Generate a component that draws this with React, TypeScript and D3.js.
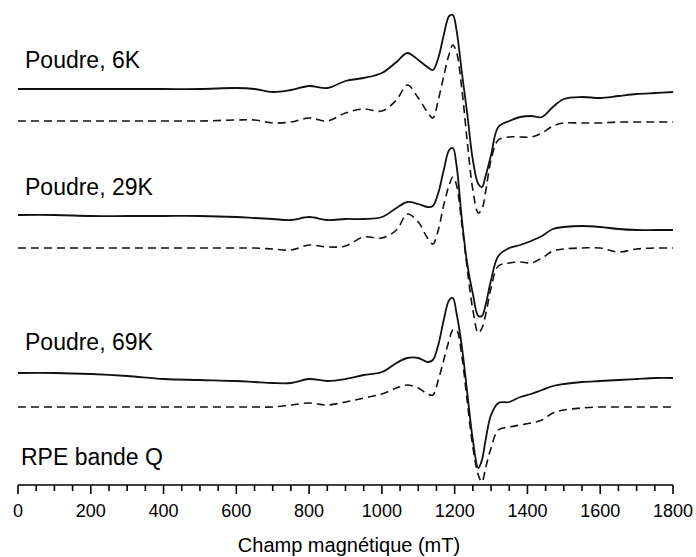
import React from "react";
import * as d3 from "d3";

// Magnetic field grid (mT)
const fields = [0, 100, 200, 300, 400, 500, 600, 650, 700, 750, 800, 850, 900, 950, 1000, 1040, 1070, 1100, 1125, 1140, 1155, 1170, 1185, 1195, 1205, 1220, 1235, 1250, 1265, 1275, 1285, 1300, 1320, 1350, 1380, 1410, 1440, 1470, 1500, 1550, 1600, 1650, 1700, 1750, 1800];

// EPR derivative signals (a.u.), experimental (solid) and simulated (dashed)
const exp6K = [0, 0, 0, 0, 0, 0, 1, 0, -3, -1, 3, 1, 8, 11, 16, 27, 36, 29, 22, 19, 31, 54, 73, 74, 59, 16, -26, -71, -95, -98, -87, -66, -38, -32, -28, -27, -28, -18, -10, -8, -9, -7, -5, -4, -3];
const sim6K = [0, 0, 0, 0, 0, 0, 1, 1, -2, -1, 3, 0, 8, 12, 10, 21, 36, 23, 9, 3, 21, 45, 67, 76, 69, 31, -22, -69, -92, -88, -71, -39, -19, -16, -16, -16, -12, -5, -2, -2, -2, -1, -1, -1, -1];
const exp29K = [0, 0, -1, -1, -1, -1, -2, -3, -4, -5, -2, -5, -4, -4, -2, 7, 13, 11, 8, 9, 22, 45, 65, 67, 50, -5, -50, -79, -101, -101, -90, -65, -41, -33, -30, -26, -21, -14, -12, -11, -12, -14, -15, -15, -15];
const sim29K = [0, 0, 0, 0, 0, 0, 0, 0, -1, -2, 3, 1, 2, 11, 10, 18, 34, 26, 10, 4, 18, 43, 63, 71, 63, 23, -22, -62, -85, -80, -67, -40, -18, -15, -14, -15, -10, -3, -1, 0, 0, -4, -1, 0, 0];
const exp69K = [0, 0, -1, -3, -6, -7, -8, -9, -10, -10, -6, -8, -6, -2, 1, 10, 15, 15, 11, 13, 28, 53, 73, 75, 60, 26, -21, -67, -95, -87, -67, -42, -30, -29, -24, -21, -17, -13, -11, -9, -8, -7, -6, -5, -5];
const sim69K = [0, 0, 0, 0, 0, 0, 0, 0, 0, 2, 4, 2, 5, 9, 13, 19, 22, 19, 13, 12, 27, 47, 67, 77, 77, 50, 4, -40, -68, -75, -61, -41, -23, -20, -18, -16, -13, -6, -3, -1, 0, 0, 0, 0, 0];

// Vertical offsets of each trace (a.u.)
const offsets = [396, 364, 270, 237, 112, 78];
const seriesValues = [exp6K, sim6K, exp29K, sim29K, exp69K, sim69K];
const seriesDashed = [false, true, false, true, false, true];

const traceLabels = ["Poudre, 6K", "Poudre, 29K", "Poudre, 69K", "RPE bande Q"];
const labelOffsets = [417, 290, 135, 20];

const xTicksMajor = [0, 200, 400, 600, 800, 1000, 1200, 1400, 1600, 1800];
const xTicksMinor = d3.range(0, 1801, 50);
const xTitle = "Champ magnétique (mT)";

const W = 696;
const H = 557;
const FONT = "'Liberation Sans', Arial, Helvetica, sans-serif";

export default function App() {
  const x = d3.scaleLinear().domain([0, 1800]).range([18, 673]);
  const y = d3.scaleLinear().domain([0, 485]).range([485, 0]);
  const axisY = y(0);

  const line = d3
    .line<[number, number]>()
    .x((d) => x(d[0]))
    .y((d) => y(d[1]))
    .curve(d3.curveCatmullRom.alpha(0.5));

  return (
    <svg
      width={W}
      height={H}
      style={{ position: "absolute", left: 0, top: 0, background: "#fff" }}
      fontFamily={FONT}
    >
      <rect x={0} y={0} width={W} height={H} fill="#fff" />
      {seriesValues.map((vals, i) => {
        const pts: [number, number][] = vals.map((v, j) => [fields[j], v + offsets[i]]);
        return (
          <path
            key={i}
            d={line(pts) || ""}
            fill="none"
            stroke="#111"
            strokeWidth={seriesDashed[i] ? 1.6 : 1.8}
            strokeDasharray={seriesDashed[i] ? "8,5" : undefined}
            strokeLinejoin="round"
          />
        );
      })}
      {traceLabels.map((t, i) => (
        <text key={t} x={i === 3 ? 21 : 25} y={y(labelOffsets[i])} fontSize={23} fill="#000">
          {t}
        </text>
      ))}
      {/* axis */}
      <line x1={x(0)} x2={x(1800)} y1={axisY} y2={axisY} stroke="#000" strokeWidth={1.6} />
      {xTicksMinor.map((t) => (
        <line
          key={"m" + t}
          x1={x(t)}
          x2={x(t)}
          y1={axisY}
          y2={axisY + (t % 200 === 0 ? 9 : 6)}
          stroke="#000"
          strokeWidth={1.6}
        />
      ))}
      {xTicksMajor.map((t) => (
        <text key={"l" + t} x={x(t)} y={axisY + 32} textAnchor="middle" fontSize={18} fill="#000">
          {t}
        </text>
      ))}
      <text x={349} y={552} textAnchor="middle" fontSize={20} fill="#000">
        {xTitle}
      </text>
    </svg>
  );
}
